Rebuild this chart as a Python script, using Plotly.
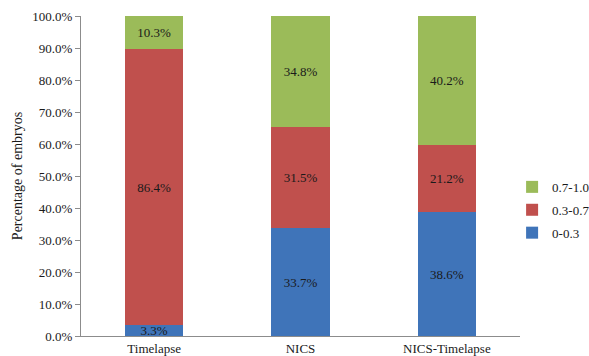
import plotly.graph_objects as go

# Embryo score distribution per selection method
categories = ["Timelapse", "NICS", "NICS-Timelapse"]
low = [3.3, 33.7, 38.6]      # 0-0.3
mid = [86.4, 31.5, 21.2]     # 0.3-0.7
high = [10.3, 34.8, 40.2]    # 0.7-1.0
series_names = ["0-0.3", "0.3-0.7", "0.7-1.0"]
series_colors = ["#3F74B9", "#C0504D", "#9BBB59"]
y_ticks = [0, 10, 20, 30, 40, 50, 60, 70, 80, 90, 100]

FONT = "Liberation Serif, Times New Roman, serif"

fig = go.Figure()
for i, (name, vals, color) in enumerate(zip(series_names, [low, mid, high], series_colors)):
    fig.add_trace(go.Bar(
        x=categories,
        y=vals,
        name=name,
        legendgroup=name,
        legendrank=3 - i,
        marker=dict(color=color, line=dict(width=0)),
        text=[f"{v:.1f}%" for v in vals],
        textposition="inside",
        insidetextanchor="middle",
        constraintext="none",
        textfont=dict(family=FONT, size=13, color="#1a1a1a"),
        cliponaxis=False,
        hoverinfo="skip",
    ))

fig.update_layout(
    barmode="stack",
    bargap=0.6,
    width=589,
    height=356,
    margin=dict(l=81, r=69, t=16, b=20, autoexpand=False),
    paper_bgcolor="white",
    plot_bgcolor="white",
    font=dict(family=FONT, size=13, color="#1a1a1a"),
    showlegend=True,
    legend=dict(
        x=0.982, y=0.394, xanchor="left", yanchor="middle",
        traceorder="grouped",
        tracegroupgap=3,
        font=dict(family=FONT, size=13, color="#1a1a1a"),
        itemwidth=30,
        bgcolor="rgba(0,0,0,0)",
    ),
)

fig.update_xaxes(
    showline=True, linecolor="#8c8c8c", linewidth=1,
    ticks="", showgrid=False, automargin=False,
    tickfont=dict(family=FONT, size=13, color="#1a1a1a"),
)
fig.update_yaxes(
    range=[0, 100],
    tickvals=y_ticks,
    ticktext=[f"{v:.1f}%" for v in y_ticks],
    showline=True, linecolor="#8c8c8c", linewidth=1,
    ticks="outside", ticklen=5, tickcolor="#8c8c8c",
    showgrid=False, zeroline=False, automargin=False,
    tickfont=dict(family=FONT, size=13, color="#1a1a1a"),
    title=dict(text="Percentage of embryos",
               font=dict(family=FONT, size=14, color="#1a1a1a"),
               standoff=6),
)

fig.write_html("out.html")
